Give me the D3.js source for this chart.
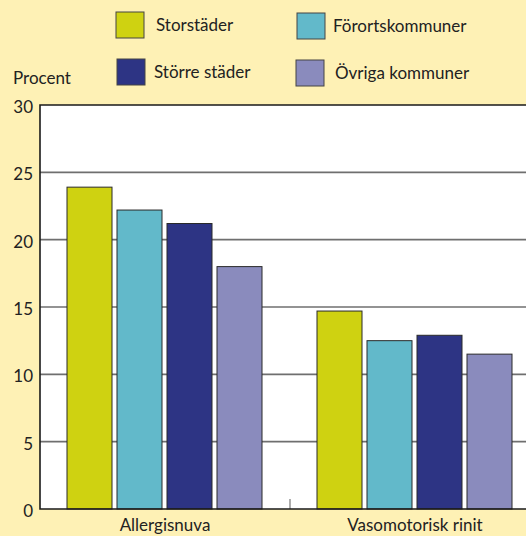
<!DOCTYPE html>
<html>
<head>
<meta charset="utf-8">
<script src="https://cdn.jsdelivr.net/npm/d3@7"></script>
<style>
    body { margin: 0; background: #fef1b5; }
    svg { display: block; font-family: Lato, 'Open Sans', sans-serif; }
</style>
</head>
<body>
<svg id="chart" width="526" height="536"></svg>
<script>
    // data
    const categories = ["Allergisnuva", "Vasomotorisk rinit"];
    const seriesNames = ["Storstäder", "Förortskommuner", "Större städer", "Övriga kommuner"];
    const seriesColors = ["#cfd211", "#62b9ca", "#2d3484", "#8a8bbd"];
    const storstader = [23.9, 14.7];
    const forortskommuner = [22.2, 12.5];
    const storreStader = [21.2, 12.9];
    const ovrigaKommuner = [18.0, 11.5];
    const yTicks = [0, 5, 10, 15, 20, 25, 30];

    (function () {
        'use strict';
        const seriesValues = [storstader, forortskommuner, storreStader, ovrigaKommuner];

        const svg = d3.select("#chart");
        const plotLeft = 40, plotTop = 105, plotBottom = 509, plotRight = 540;

        const y = d3.scaleLinear().domain([0, 30]).range([plotBottom, plotTop]);
        const x0 = d3.scaleBand().domain(categories).range([plotLeft, plotRight]);
        const x1 = d3.scaleBand().domain(seriesNames).range([27, 222]).paddingInner(0.1);

        // plot background
        svg.append("rect")
            .attr("x", plotLeft).attr("y", plotTop)
            .attr("width", 526 - plotLeft).attr("height", plotBottom - plotTop)
            .attr("fill", "#fff");

        // gridlines
        svg.append("g").selectAll("line")
            .data(yTicks.filter(d => d > 0 && d < 30))
            .join("line")
            .attr("x1", plotLeft).attr("x2", 526)
            .attr("y1", d => y(d)).attr("y2", d => y(d))
            .attr("stroke", "#6f6f6f").attr("stroke-width", 1.6);

        // bars
        const groups = svg.append("g").selectAll("g")
            .data(categories)
            .join("g")
            .attr("transform", d => `translate(${x0(d)},0)`);

        groups.selectAll("rect")
            .data((c, ci) => seriesNames.map((s, si) => ({ s: s, si: si, v: seriesValues[si][ci] })))
            .join("rect")
            .attr("x", d => x1(d.s))
            .attr("width", x1.bandwidth())
            .attr("y", d => y(d.v))
            .attr("height", d => y(0) - y(d.v))
            .attr("fill", d => seriesColors[d.si])
            .attr("stroke", "#2a2a2a").attr("stroke-width", 1);

        // separator tick between groups
        svg.append("line")
            .attr("x1", x0(categories[1])).attr("x2", x0(categories[1]))
            .attr("y1", plotBottom).attr("y2", plotBottom - 10)
            .attr("stroke", "#777").attr("stroke-width", 1.2);

        // frame: top, left, bottom
        svg.append("path")
            .attr("d", `M526,${plotTop}H${plotLeft}V${plotBottom}H526`)
            .attr("fill", "none").attr("stroke", "#1a1a1a").attr("stroke-width", 1.6);

        // y axis labels
        svg.append("g").selectAll("text")
            .data(yTicks)
            .join("text")
            .attr("x", 33).attr("y", d => y(d) + 8)
            .attr("text-anchor", "end")
            .attr("font-size", 17).attr("fill", "#222")
            .text(d => d);

        svg.append("text")
            .attr("x", 13).attr("y", 84)
            .attr("font-size", 17).attr("fill", "#222")
            .text("Procent");

        // category labels
        svg.append("g").selectAll("text")
            .data(categories)
            .join("text")
            .attr("x", d => x0(d) + 125)
            .attr("y", 531)
            .attr("text-anchor", "middle")
            .attr("font-size", 17).attr("fill", "#222")
            .text(d => d);

        // legend
        const legendPos = [[116, 12], [297, 13], [117, 59], [296, 60]];
        const textX = [156, 333, 154, 335];
        const legend = svg.append("g").selectAll("g")
            .data(seriesNames)
            .join("g");
        legend.append("rect")
            .attr("x", (d, i) => legendPos[i][0]).attr("y", (d, i) => legendPos[i][1])
            .attr("width", 28).attr("height", 26)
            .attr("fill", (d, i) => seriesColors[i])
            .attr("stroke", "#444").attr("stroke-width", 1);
        legend.append("text")
            .attr("x", (d, i) => textX[i]).attr("y", (d, i) => legendPos[i][1] + 19)
            .attr("font-size", 17).attr("fill", "#222")
            .text(d => d);
    })();
</script>
</body>
</html>
